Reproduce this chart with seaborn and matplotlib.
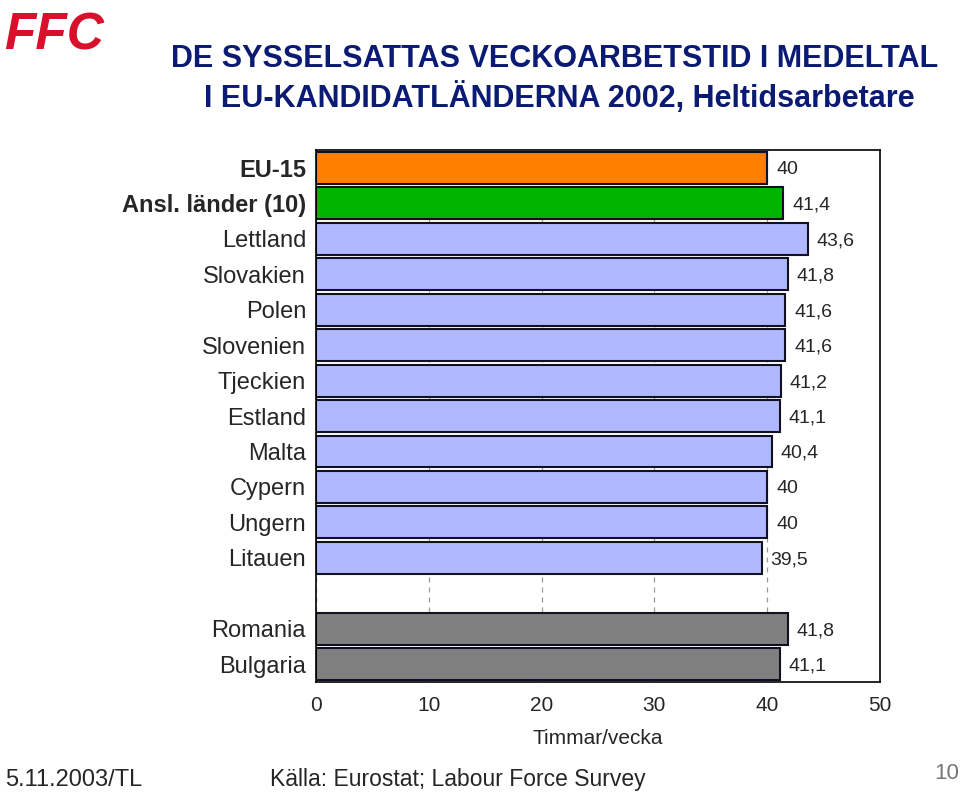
import pandas as pd
import matplotlib.pyplot as plt
import seaborn as sns

# data
countries = ['EU-15', 'Ansl. länder (10)', 'Lettland', 'Slovakien', 'Polen', 'Slovenien',
             'Tjeckien', 'Estland', 'Malta', 'Cypern', 'Ungern', 'Litauen',
             'Romania', 'Bulgaria']
hours = [40, 41.4, 43.6, 41.8, 41.6, 41.6, 41.2, 41.1, 40.4, 40, 40, 39.5, 41.8, 41.1]
groups = ['eu', 'cand', 'member', 'member', 'member', 'member', 'member', 'member',
          'member', 'member', 'member', 'member', 'other', 'other']
x_ticks = [0, 10, 20, 30, 40, 50]

group_colors = {'eu': '#FF8000', 'cand': '#00B400', 'member': '#B0B8FF', 'other': '#808080'}

df = pd.DataFrame({'country': countries, 'hours': hours, 'group': groups})

# empty slot between Litauen and Romania
order = countries[:12] + [' '] + countries[12:]

sns.set_style('white')
plt.rcParams['font.family'] = ['Liberation Sans', 'DejaVu Sans']

fig = plt.figure(figsize=(9.6, 7.93), dpi=100)
ax = fig.add_axes([0.329, 0.14, 0.5877, 0.6708])

sns.barplot(data=df, y='country', x='hours', hue='group', palette=group_colors,
            order=order, orient='h', width=0.9, dodge=False, legend=False,
            saturation=1, edgecolor='#111122', linewidth=1.5, ax=ax, zorder=2)

ax.set_xlim(0, 50)
ax.set_xticks(x_ticks)
ax.set_xticklabels([str(t) for t in x_ticks], fontsize=15)
ax.tick_params(axis='x', length=0, pad=10)
ax.tick_params(axis='y', length=0, pad=7)
ax.xaxis.grid(True, linestyle=(0, (4, 4)), color='#999999', linewidth=0.9)
ax.set_axisbelow(True)
for s in ax.spines.values():
    s.set_visible(True)
    s.set_color('black')
    s.set_linewidth(1.2)

ax.set_ylabel('')
ax.set_xlabel('Timmar/vecka', fontsize=15, labelpad=10)

for lab in ax.get_yticklabels():
    lab.set_fontsize(17)
    if lab.get_text() in ('EU-15', 'Ansl. länder (10)'):
        lab.set_fontweight('bold')

# value labels with decimal comma
for c, v in zip(countries, hours):
    ypos = order.index(c)
    txt = f'{v:g}'.replace('.', ',')
    ax.text(v + 0.8, ypos, txt, va='center_baseline', ha='left', fontsize=14)

fig.text(0.004, 0.986, 'FFC', color='#D8102B', fontsize=37, fontweight='bold',
         fontstyle='italic', va='top', ha='left')
fig.text(0.578, 0.925, 'DE SYSSELSATTAS VECKOARBETSTID I MEDELTAL',
         color='#0B1A72', fontsize=22, fontweight='bold', ha='center', va='center')
fig.text(0.583, 0.877, 'I EU-KANDIDATLÄNDERNA 2002, Heltidsarbetare',
         color='#0B1A72', fontsize=22, fontweight='bold', ha='center', va='center')

fig.text(0.005, 0.017, '5.11.2003/TL', fontsize=17, ha='left', va='center')
fig.text(0.477, 0.017, 'Källa: Eurostat; Labour Force Survey', fontsize=16.5,
         ha='center', va='center')
fig.text(0.999, 0.025, '10', fontsize=16, color='#777777', ha='right', va='center')

fig.savefig('out.png', dpi=100)
